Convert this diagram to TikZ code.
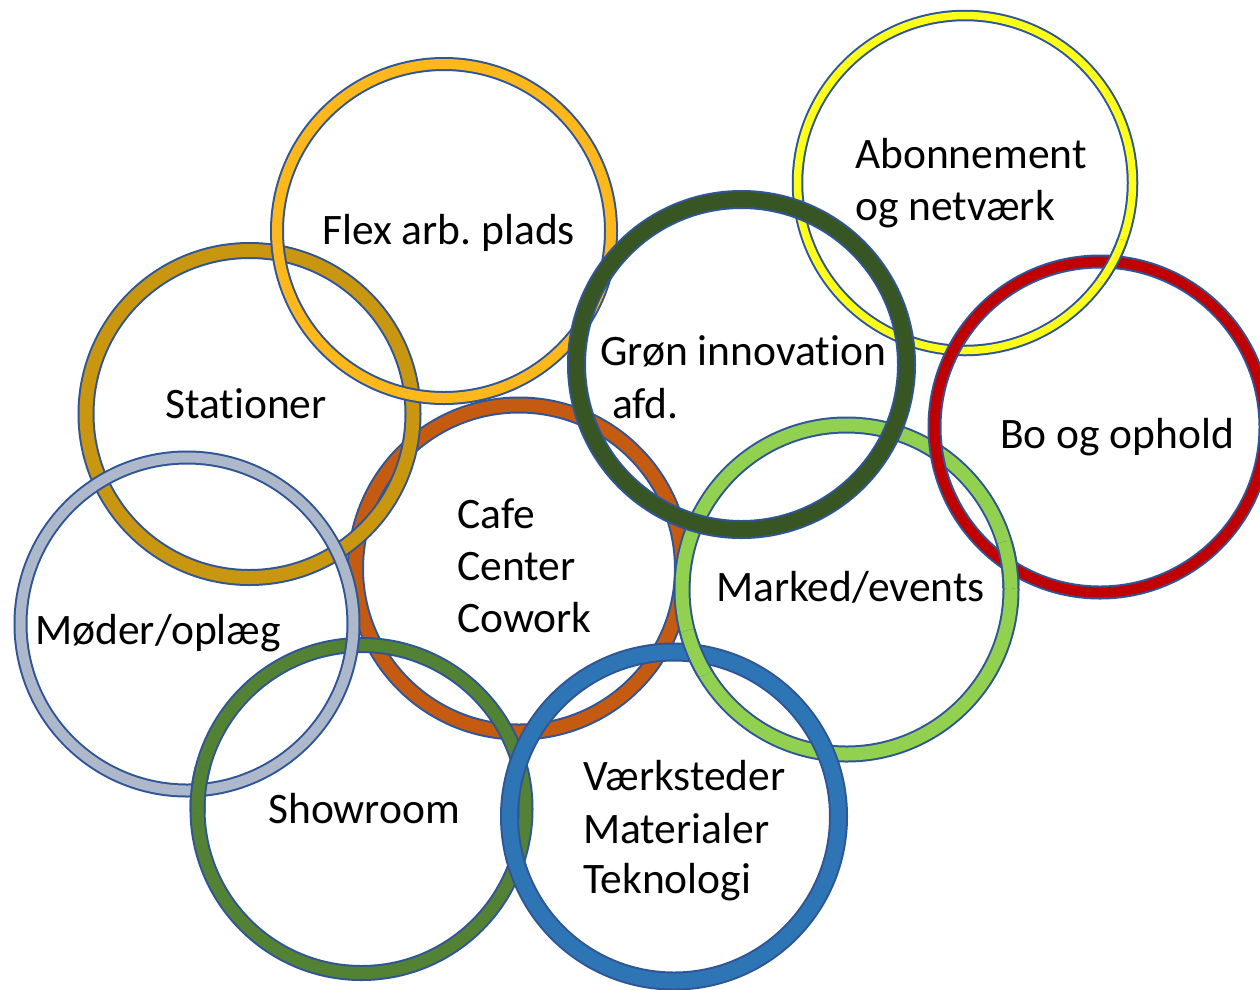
\documentclass[tikz,border=0pt]{standalone}
\usepackage{fontspec}
\setmainfont{Carlito}[Ligatures=NoCommon]
\frenchspacing
\definecolor{edgeblue}{HTML}{2F5597}
\definecolor{cflex}{HTML}{FFB81C}
\definecolor{cabo}{HTML}{FFFF1A}
\definecolor{cstat}{HTML}{C8960F}
\definecolor{cgron}{HTML}{375623}
\definecolor{cbo}{HTML}{C00000}
\definecolor{ccafe}{HTML}{C55A11}
\definecolor{cmark}{HTML}{92D050}
\definecolor{cmoed}{HTML}{ADB9CA}
\definecolor{cshow}{HTML}{548235}
\definecolor{cvaerk}{HTML}{2E75B6}
% ring: cx, cy, radius, colour, band width, outer width
\newcommand\myring[6]{%
  \draw[edgeblue, line width=#6pt] (#1,#2) circle[radius=#3pt];
  \draw[#4, line width=#5pt] (#1,#2) circle[radius=#3pt];}
\newcommand\ringF{\myring{444}{231}{167}{cflex}{10}{14}}
\newcommand\ringAb{\myring{965}{183}{167.5}{cabo}{7.5}{11.5}}
\newcommand\ringS{\myring{249.5}{414}{163.5}{cstat}{13}{17}}
\newcommand\ringG{\myring{741.5}{364.5}{165}{cgron}{15}{19}}
\newcommand\ringBo{\myring{1100}{427}{165.5}{cbo}{10}{14}}
\newcommand\ringC{\myring{519}{568.5}{163.5}{ccafe}{13}{17}}
\newcommand\ringMk{\myring{846.5}{589.5}{164.5}{cmark}{13}{17}}
\newcommand\ringM{\myring{187}{624}{166.5}{cmoed}{10}{14}}
\newcommand\ringSh{\myring{361.5}{809}{164}{cshow}{12}{16}}
\newcommand\ringV{\myring{674}{816.5}{164.5}{cvaerk}{15}{19}}
\begin{document}
\begin{tikzpicture}[x=1pt,y=-1pt]
\tikzset{lbl/.style={anchor=base west, inner sep=0pt, text=black,
  font=\fontsize{43.5}{52}\selectfont}}
\fill[white] (0,0) rectangle (1260,989);
\useasboundingbox (0,0) rectangle (1260,989);
% base stacking order
\ringC
\ringS
\ringF
\ringAb
\ringMk
\ringG
\ringBo
\ringSh
\ringM
\ringV
% interlaced crossings
\begin{scope}\clip (695,653) circle[radius=24pt]; \ringMk \end{scope}
\begin{scope}\clip (1113,262) circle[radius=24pt]; \ringAb \end{scope}
\begin{scope}\clip (1009,565) circle[radius=24pt]; \ringMk \end{scope}
\begin{scope}\clip (199,790) circle[radius=24pt]; \ringSh \end{scope}
% labels
\node[lbl] (flex) at (322,244) {Flex arb. plads};
\node[lbl] (abo1) at (855,168) {Abonnement};
\node[lbl] (abo2) at (855,220) {og netværk};
\node[lbl] (stat) at (165,418) {Stationer};
\node[lbl] (gron1) at (600,365) {Grøn innovation};
\node[lbl] (gron2) at (612,418) {afd.};
\node[lbl] (bo) at (1000,448) {Bo og ophold};
\node[lbl] (cafe1) at (457,528) {Cafe};
\node[lbl] (cafe2) at (457,580) {Center};
\node[lbl] (cafe3) at (457,632) {Cowork};
\node[lbl] (mark) at (716,601) {Marked/events};
\node[lbl] (moed) at (35,644) {Møder/oplæg};
\node[lbl] (show) at (268,823) {Showroom};
\node[lbl] (vaerk1) at (583,790) {Værksteder};
\node[lbl] (vaerk2) at (583,843) {Materialer};
\node[lbl] (vaerk3) at (583,893) {Teknologi};
\end{tikzpicture}
\end{document}
